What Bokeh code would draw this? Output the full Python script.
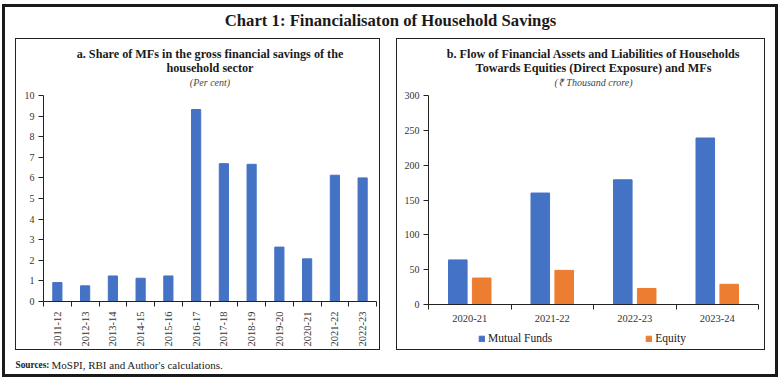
from math import pi
from bokeh.plotting import figure
from bokeh.models import (Range1d, FixedTicker, LinearAxis, Title, Label, Legend,
                          LegendItem, Spacer, ColumnDataSource)
from bokeh.layouts import column, row
from bokeh.transform import dodge
from bokeh.embed import file_html
from bokeh.resources import INLINE

# ---------------- data ----------------
years_a = ["2011-12", "2012-13", "2013-14", "2014-15", "2015-16", "2016-17",
           "2017-18", "2018-19", "2019-20", "2020-21", "2021-22", "2022-23"]
share_a = [0.92, 0.76, 1.24, 1.13, 1.24, 9.32, 6.69, 6.66, 2.64, 2.07, 6.13, 6.0]
yticks_a = [0, 1, 2, 3, 4, 5, 6, 7, 8, 9, 10]

years_b = ["2020-21", "2021-22", "2022-23", "2023-24"]
mutual_funds_b = [64, 160, 179, 239]
equity_b = [38, 49, 23, 29]
yticks_b = [0, 50, 100, 150, 200, 250, 300]
series_b = ["Mutual Funds", "Equity"]

chart_title = "Chart 1: Financialisaton of Household Savings"
title_a = ["a. Share of MFs in the gross financial savings of the", "household sector"]
unit_a = "(Per cent)"
title_b = ["b. Flow of Financial Assets and Liabilities of Households",
           "Towards Equities (Direct Exposure) and MFs"]
unit_b = "(\u20b9 Thousand crore)"
source_bold = "Sources:"
source_text = "MoSPI, RBI and Author's calculations."

FONT = "Liberation Serif"
BLUE = "#4472C4"
ORANGE = "#ED7D31"
TXT = "#1a1a1a"
AX = "#222222"


def style_axis(ax, size="10px"):
    ax.axis_line_color = AX
    ax.major_tick_line_color = AX
    ax.minor_tick_line_color = AX
    ax.major_label_text_font = FONT
    ax.major_label_text_font_size = size
    ax.major_label_text_color = "#333333"


def add_titles(p, lines, unit):
    p.add_layout(Title(text=unit, align="center", text_font=FONT, text_font_size="10px",
                       text_font_style="italic", text_color="#444444", standoff=16), "above")
    p.add_layout(Title(text=lines[1], align="center", text_font=FONT, text_font_size="12.2px",
                       text_font_style="bold", text_color=TXT, standoff=-17), "above")
    p.add_layout(Title(text=lines[0], align="center", text_font=FONT, text_font_size="12.2px",
                       text_font_style="bold", text_color=TXT, standoff=11), "above")


def blank(w, h):
    f = figure(width=w, height=h, x_range=Range1d(0, 1), y_range=Range1d(0, 1),
               x_axis_type=None, y_axis_type=None, output_backend="svg",
               toolbar_location=None, min_border=0)
    f.outline_line_color = None
    f.grid.visible = False
    return f


# ---------------- panel a ----------------
xs_a = list(range(1, len(years_a) + 1))
pa = figure(width=363, height=310, x_range=Range1d(0.5, len(years_a) + 0.5),
            y_range=Range1d(yticks_a[0], yticks_a[-1]), x_axis_type=None, y_axis_type=None,
            output_backend="svg", toolbar_location=None,
            min_border_left=27, min_border_right=3, min_border_bottom=48, min_border_top=56)
pa.outline_line_color = None
pa.grid.visible = False
pa.vbar(x=xs_a, top=share_a, width=0.33, color=BLUE)

xa = LinearAxis(ticker=FixedTicker(ticks=xs_a, minor_ticks=[x - 0.5 for x in xs_a] + [xs_a[-1] + 0.5]),
                major_label_overrides={x: y for x, y in zip(xs_a, years_a)},
                major_tick_out=0, major_tick_in=0, minor_tick_out=5, minor_tick_in=0,
                major_label_orientation=pi / 2, major_label_standoff=5)
style_axis(xa, "10.5px")
pa.add_layout(xa, "below")
ya = LinearAxis(ticker=FixedTicker(ticks=yticks_a), major_tick_out=5, major_tick_in=0,
                minor_tick_out=0, minor_tick_in=0, major_label_standoff=4)
style_axis(ya)
pa.add_layout(ya, "left")
add_titles(pa, title_a, unit_a)

# ---------------- panel b ----------------
xs_b = list(range(1, len(years_b) + 1))
src_b = ColumnDataSource(dict(x=xs_b, mf=mutual_funds_b, eq=equity_b))
pb = figure(width=367, height=288, x_range=Range1d(0.5, len(years_b) + 0.5),
            y_range=Range1d(yticks_b[0], yticks_b[-1]), x_axis_type=None, y_axis_type=None,
            output_backend="svg", toolbar_location=None,
            min_border_left=31, min_border_right=6, min_border_bottom=23, min_border_top=56)
pb.outline_line_color = None
pb.grid.visible = False
pb.vbar(x=dodge("x", -0.145), top="mf", width=0.225, source=src_b, color=BLUE)
pb.vbar(x=dodge("x", 0.145), top="eq", width=0.225, source=src_b, color=ORANGE)

xb = LinearAxis(ticker=FixedTicker(ticks=xs_b, minor_ticks=[x - 0.5 for x in xs_b] + [xs_b[-1] + 0.5]),
                major_label_overrides={x: y for x, y in zip(xs_b, years_b)},
                major_tick_out=0, major_tick_in=0, minor_tick_out=5, minor_tick_in=0,
                major_label_standoff=5)
style_axis(xb, "10.5px")
pb.add_layout(xb, "below")
yb = LinearAxis(ticker=FixedTicker(ticks=yticks_b), major_tick_out=5, major_tick_in=0,
                minor_tick_out=0, minor_tick_in=0, major_label_standoff=4)
style_axis(yb)
pb.add_layout(yb, "left")
add_titles(pb, title_b, unit_b)

# legend strip under panel b (legend keys for the two series)
leg = blank(367, 22)
k1 = leg.vbar(x="x", top="mf", width=0.225, source=src_b, color=BLUE, visible=False)
k2 = leg.vbar(x="x", top="eq", width=0.225, source=src_b, color=ORANGE, visible=False)
legend = Legend(items=[LegendItem(label=series_b[0], renderers=[k1]),
                       LegendItem(label=series_b[1], renderers=[k2])],
                orientation="horizontal", location=(50, 5), spacing=93,
                glyph_width=7, glyph_height=7, label_text_font=FONT,
                label_text_font_size="11.5px", label_text_color=TXT,
                label_height=12, label_width=10,
                border_line_color=None, background_fill_alpha=0, padding=0, margin=0,
                label_standoff=3, inactive_fill_alpha=0)
leg.add_layout(legend)

# ---------------- header / footer ----------------
head = blank(770, 31)
head.add_layout(Label(x=385, y=18, x_units="screen", y_units="screen", text=chart_title,
                      text_align="center", text_baseline="middle", text_font=FONT,
                      text_font_size="16.7px", text_font_style="bold", text_color=TXT))

foot = blank(770, 24)
foot.add_layout(Label(x=10, y=10, x_units="screen", y_units="screen", text=source_bold,
                      text_align="left", text_baseline="middle", text_font=FONT,
                      text_font_size="9.3px", text_font_style="bold", text_color=TXT))
foot.add_layout(Label(x=46, y=10, x_units="screen", y_units="screen", text=source_text,
                      text_align="left", text_baseline="middle", text_font=FONT,
                      text_font_size="11px", text_color=TXT))

box_a = column(pa, styles={"border": "1px solid #222222"})
box_b = column(pb, leg, styles={"border": "1px solid #222222"})

page = column(head,
              row(Spacer(width=10), box_a, Spacer(width=16), box_b, Spacer(width=10)),
              foot,
              styles={"border": "3px solid #1a1a1a", "margin-left": "2px", "margin-top": "4px"})

open("out.html", "w").write(file_html(page, INLINE))
